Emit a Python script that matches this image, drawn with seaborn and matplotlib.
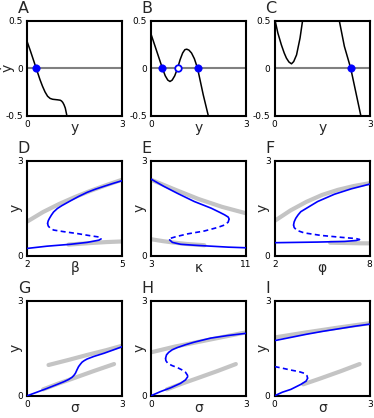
import numpy as np
import matplotlib
matplotlib.use("Agg")
import matplotlib.pyplot as plt
import seaborn as sns

sns.set_style("white")
plt.rcParams['font.family'] = ['DejaVu Sans']

BLUE = '#0000ff'
GREY = '#c4c4c4'

# ---- row 1: phase lines, ydot vs y ----
a_y = [0, 0.1, 0.2, 0.28, 0.4, 0.48, 0.56, 0.64, 0.72, 0.8, 0.88, 0.96, 1.04, 1.08, 1.12, 1.16, 1.2, 1.25, 1.3]
a_dy = [0.275, 0.18, 0.08, 0.0, -0.12, -0.19, -0.25, -0.295, -0.318, -0.327, -0.33, -0.333, -0.337, -0.345, -0.36, -0.385, -0.42, -0.5, -0.58]
a_fixed = [0.28]

b_y = [0, 0.09, 0.18, 0.27, 0.36, 0.45, 0.53, 0.6, 0.67, 0.75, 0.84, 0.92, 1.0, 1.07, 1.13, 1.2, 1.28, 1.37, 1.47, 1.56, 1.65, 1.73, 1.81, 1.86]
b_dy = [0.36, 0.27, 0.18, 0.09, 0.0, -0.08, -0.125, -0.14, -0.125, -0.08, 0.0, 0.09, 0.16, 0.195, 0.2, 0.19, 0.16, 0.1, 0.0, -0.14, -0.28, -0.39, -0.5, -0.57]
b_stable = [0.36, 1.47]
b_unstable = [0.84]

c_y = [0, 0.1, 0.21, 0.3, 0.37, 0.45, 0.53, 0.6, 0.69, 0.8, 0.88, 0.95, 1.4, 1.95, 2.04, 2.2, 2.4, 2.56, 2.72, 2.8]
c_dy = [0.52, 0.37, 0.246, 0.16, 0.106, 0.065, 0.046, 0.07, 0.14, 0.317, 0.5, 0.72, 1.2, 0.63, 0.5, 0.23, 0.0, -0.25, -0.5, -0.62]
c_fixed = [2.4]

# ---- row 2: bifurcation diagrams ----
d_grey_up_x = [2, 2.5, 3, 3.5, 4, 4.5, 5]
d_grey_up_y = [1.08, 1.38, 1.63, 1.85, 2.05, 2.23, 2.40]
d_grey_lo_x = [3.3, 4, 4.5, 5]
d_grey_lo_y = [0.35, 0.40, 0.43, 0.45]
d_up_x = [2.64, 2.66, 2.70, 2.76, 2.83, 2.95, 3.09, 3.36, 3.62, 3.89, 4.15, 4.42, 4.7, 5.0]
d_up_y = [1.02, 1.10, 1.18, 1.28, 1.38, 1.49, 1.58, 1.73, 1.87, 2.0, 2.10, 2.19, 2.28, 2.37]
d_mid_x = [2.64, 2.66, 2.72, 2.83, 3.14, 3.57, 3.99, 4.26, 4.33]
d_mid_y = [1.02, 0.94, 0.87, 0.81, 0.76, 0.70, 0.63, 0.59, 0.53]
d_lo_x = [4.33, 4.26, 3.89, 3.36, 2.62, 2.0]
d_lo_y = [0.53, 0.49, 0.42, 0.36, 0.30, 0.23]

e_grey_up_x = [3, 5, 7, 9, 11]
e_grey_up_y = [2.40, 2.09, 1.79, 1.54, 1.34]
e_grey_lo_x = [3, 4, 5, 6, 7.5]
e_grey_lo_y = [0.52, 0.46, 0.41, 0.37, 0.33]
e_up_x = [3, 4.08, 5.22, 6.65, 8.07, 8.78, 9.2, 9.5, 9.58]
e_up_y = [2.42, 2.19, 1.97, 1.71, 1.5, 1.37, 1.29, 1.22, 1.16]
e_mid_x = [9.58, 9.5, 9.2, 8.6, 7.5, 6.1, 5.1, 4.65, 4.57]
e_mid_y = [1.16, 1.06, 0.97, 0.89, 0.78, 0.69, 0.60, 0.55, 0.50]
e_lo_x = [4.57, 4.8, 5.5, 6.65, 8.07, 9.5, 11]
e_lo_y = [0.50, 0.42, 0.36, 0.33, 0.30, 0.27, 0.25]

f_grey_up_x = [2, 3, 4, 5, 6, 7, 8]
f_grey_up_y = [1.10, 1.43, 1.70, 1.92, 2.08, 2.20, 2.29]
f_grey_lo_x = [5.5, 6.5, 7.5, 8]
f_grey_lo_y = [0.41, 0.40, 0.39, 0.39]
f_up_x = [3.19, 3.23, 3.33, 3.48, 3.65, 4.18, 4.71, 5.77, 6.83, 8.0]
f_up_y = [0.97, 1.07, 1.18, 1.29, 1.39, 1.55, 1.71, 1.94, 2.11, 2.26]
f_mid_x = [3.19, 3.23, 3.4, 3.86, 4.92, 6.2, 7.15, 7.36]
f_mid_y = [0.97, 0.89, 0.80, 0.72, 0.64, 0.58, 0.54, 0.51]
f_lo_x = [7.36, 7.15, 6.41, 4.71, 2.0]
f_lo_y = [0.51, 0.48, 0.45, 0.43, 0.41]

# ---- row 3: sigma ----
g_grey_up_x = [0.67, 1.3, 1.9, 2.5, 3]
g_grey_up_y = [0.97, 1.13, 1.29, 1.44, 1.58]
g_grey_lo_x = [0.5, 1.0, 1.4, 2.1, 2.74]
g_grey_lo_y = [0.20, 0.39, 0.53, 0.78, 1.0]
g_x = [0, 0.3, 0.62, 0.9, 1.15, 1.3, 1.41, 1.47, 1.52, 1.57, 1.62, 1.68, 1.73, 1.8, 1.89, 2.1, 2.42, 2.7, 3.0]
g_y = [0, 0.11, 0.23, 0.34, 0.44, 0.51, 0.58, 0.64, 0.71, 0.82, 0.92, 1.0, 1.06, 1.11, 1.16, 1.24, 1.34, 1.44, 1.55]

h_grey_up_x = [0, 0.75, 1.5, 2.25, 3]
h_grey_up_y = [1.37, 1.55, 1.70, 1.85, 2.0]
h_grey_lo_x = [0.5, 1.0, 1.4, 2.1, 2.68]
h_grey_lo_y = [0.20, 0.39, 0.53, 0.78, 1.0]
h_up_x = [0.46, 0.49, 0.56, 0.67, 0.83, 1.09, 1.36, 1.89, 2.42, 3.0]
h_up_y = [1.18, 1.29, 1.37, 1.45, 1.52, 1.61, 1.69, 1.82, 1.90, 1.97]
h_mid_x = [0.46, 0.47, 0.53, 0.67, 0.83, 0.99, 1.09, 1.15, 1.16]
h_mid_y = [1.18, 1.11, 1.02, 0.95, 0.89, 0.81, 0.74, 0.65, 0.60]
h_lo_x = [1.16, 1.09, 0.93, 0.62, 0.30, 0]
h_lo_y = [0.60, 0.50, 0.39, 0.25, 0.13, 0]

i_grey_up_x = [0, 1, 2, 3]
i_grey_up_y = [1.84, 2.0, 2.15, 2.29]
i_grey_lo_x = [0.9, 1.4, 2.1, 2.68]
i_grey_lo_y = [0.36, 0.53, 0.78, 1.0]
i_up_x = [0, 0.5, 1, 1.5, 2, 2.5, 3]
i_up_y = [1.74, 1.84, 1.94, 2.03, 2.11, 2.19, 2.26]
i_mid_x = [0, 0.24, 0.51, 0.77, 0.93, 1.02, 1.04]
i_mid_y = [0.92, 0.87, 0.81, 0.76, 0.71, 0.63, 0.55]
i_lo_x = [1.04, 0.99, 0.83, 0.51, 0.24, 0]
i_lo_y = [0.55, 0.46, 0.36, 0.20, 0.11, 0]

fig = plt.figure(figsize=(3.74, 4.18), dpi=100)
lefts = [0.073, 0.4037, 0.7345]
bottoms = [0.7232, 0.3883, 0.0533]
W, H = 0.254, 0.2273
axes = [[fig.add_axes([l, b, W, H]) for l in lefts] for b in bottoms]


def line(ax, x, y, color, lw, ls='-', z=2):
    sns.lineplot(x=x, y=y, ax=ax, sort=False, estimator=None, color=color,
                 lw=lw, linestyle=ls, zorder=z)


def style(ax, letter, xlim, ylim, xticks, yticks, yticklabels, xlabel, ylabel, ylab_x=-0.05):
    ax.set_xlim(*xlim)
    ax.set_ylim(*ylim)
    ax.set_xticks(xticks)
    ax.set_xticklabels([str(t) for t in xticks])
    ax.set_yticks(yticks)
    ax.set_yticklabels(yticklabels)
    ax.tick_params(length=0, pad=3, labelsize=6.5, colors='black')
    for sp in ax.spines.values():
        sp.set_visible(True)
        sp.set_color('black')
        sp.set_linewidth(1.5)
    ax.set_xlabel(xlabel, fontsize=10)
    ax.xaxis.set_label_coords(0.5, -0.06)
    ax.set_ylabel(ylabel, fontsize=10)
    ax.yaxis.set_label_coords(ylab_x, 0.5)
    ax.text(-0.1, 1.085, letter, transform=ax.transAxes, fontsize=11.5,
            ha='left', va='baseline')


# row 1
row1 = [
    ('A', a_y, a_dy, a_fixed, []),
    ('B', b_y, b_dy, b_stable, b_unstable),
    ('C', c_y, c_dy, c_fixed, []),
]
for ax, (letter, yy, dy, stable, unstable) in zip(axes[0], row1):
    ax.axhline(0, color='#808080', lw=1.5, zorder=1)
    line(ax, yy, dy, 'black', 1.1)
    if stable:
        sns.scatterplot(x=stable, y=[0] * len(stable), ax=ax, color=BLUE, s=28,
                        edgecolor=BLUE, linewidth=0.5, zorder=5, clip_on=False)
    if unstable:
        sns.scatterplot(x=unstable, y=[0] * len(unstable), ax=ax, color='white', s=22,
                        edgecolor=BLUE, linewidth=1.3, zorder=5)
    style(ax, letter, (0, 3), (-0.5, 0.5), [0, 3], [-0.5, 0, 0.5], ['-0.5', '0', '0.5'],
          'y', 'ẏ' if letter == 'A' else '', ylab_x=-0.13)

# rows 2 and 3
bif = [
    ('D', (2, 5), 'β', d_grey_up_x, d_grey_up_y, d_grey_lo_x, d_grey_lo_y,
     [(d_up_x, d_up_y, '-'), (d_mid_x, d_mid_y, (0, (3, 2))), (d_lo_x, d_lo_y, '-')]),
    ('E', (3, 11), 'κ', e_grey_up_x, e_grey_up_y, e_grey_lo_x, e_grey_lo_y,
     [(e_up_x, e_up_y, '-'), (e_mid_x, e_mid_y, (0, (3, 2))), (e_lo_x, e_lo_y, '-')]),
    ('F', (2, 8), 'φ', f_grey_up_x, f_grey_up_y, f_grey_lo_x, f_grey_lo_y,
     [(f_up_x, f_up_y, '-'), (f_mid_x, f_mid_y, (0, (3, 2))), (f_lo_x, f_lo_y, '-')]),
    ('G', (0, 3), 'σ', g_grey_up_x, g_grey_up_y, g_grey_lo_x, g_grey_lo_y,
     [(g_x, g_y, '-')]),
    ('H', (0, 3), 'σ', h_grey_up_x, h_grey_up_y, h_grey_lo_x, h_grey_lo_y,
     [(h_up_x, h_up_y, '-'), (h_mid_x, h_mid_y, (0, (3, 2))), (h_lo_x, h_lo_y, '-')]),
    ('I', (0, 3), 'σ', i_grey_up_x, i_grey_up_y, i_grey_lo_x, i_grey_lo_y,
     [(i_up_x, i_up_y, '-'), (i_mid_x, i_mid_y, (0, (3, 2))), (i_lo_x, i_lo_y, '-')]),
]
flat_axes = axes[1] + axes[2]
for ax, (letter, xlim, xl, gux, guy, glx, gly, branches) in zip(flat_axes, bif):
    line(ax, gux, guy, GREY, 3.0, z=1)
    line(ax, glx, gly, GREY, 3.0, z=1)
    for bx, by, ls in branches:
        line(ax, bx, by, BLUE, 1.2, ls=ls, z=3)
    style(ax, letter, xlim, (0, 3), list(xlim), [0, 3], ['0', '3'], xl, 'y')

fig.savefig('out.png', dpi=100)
